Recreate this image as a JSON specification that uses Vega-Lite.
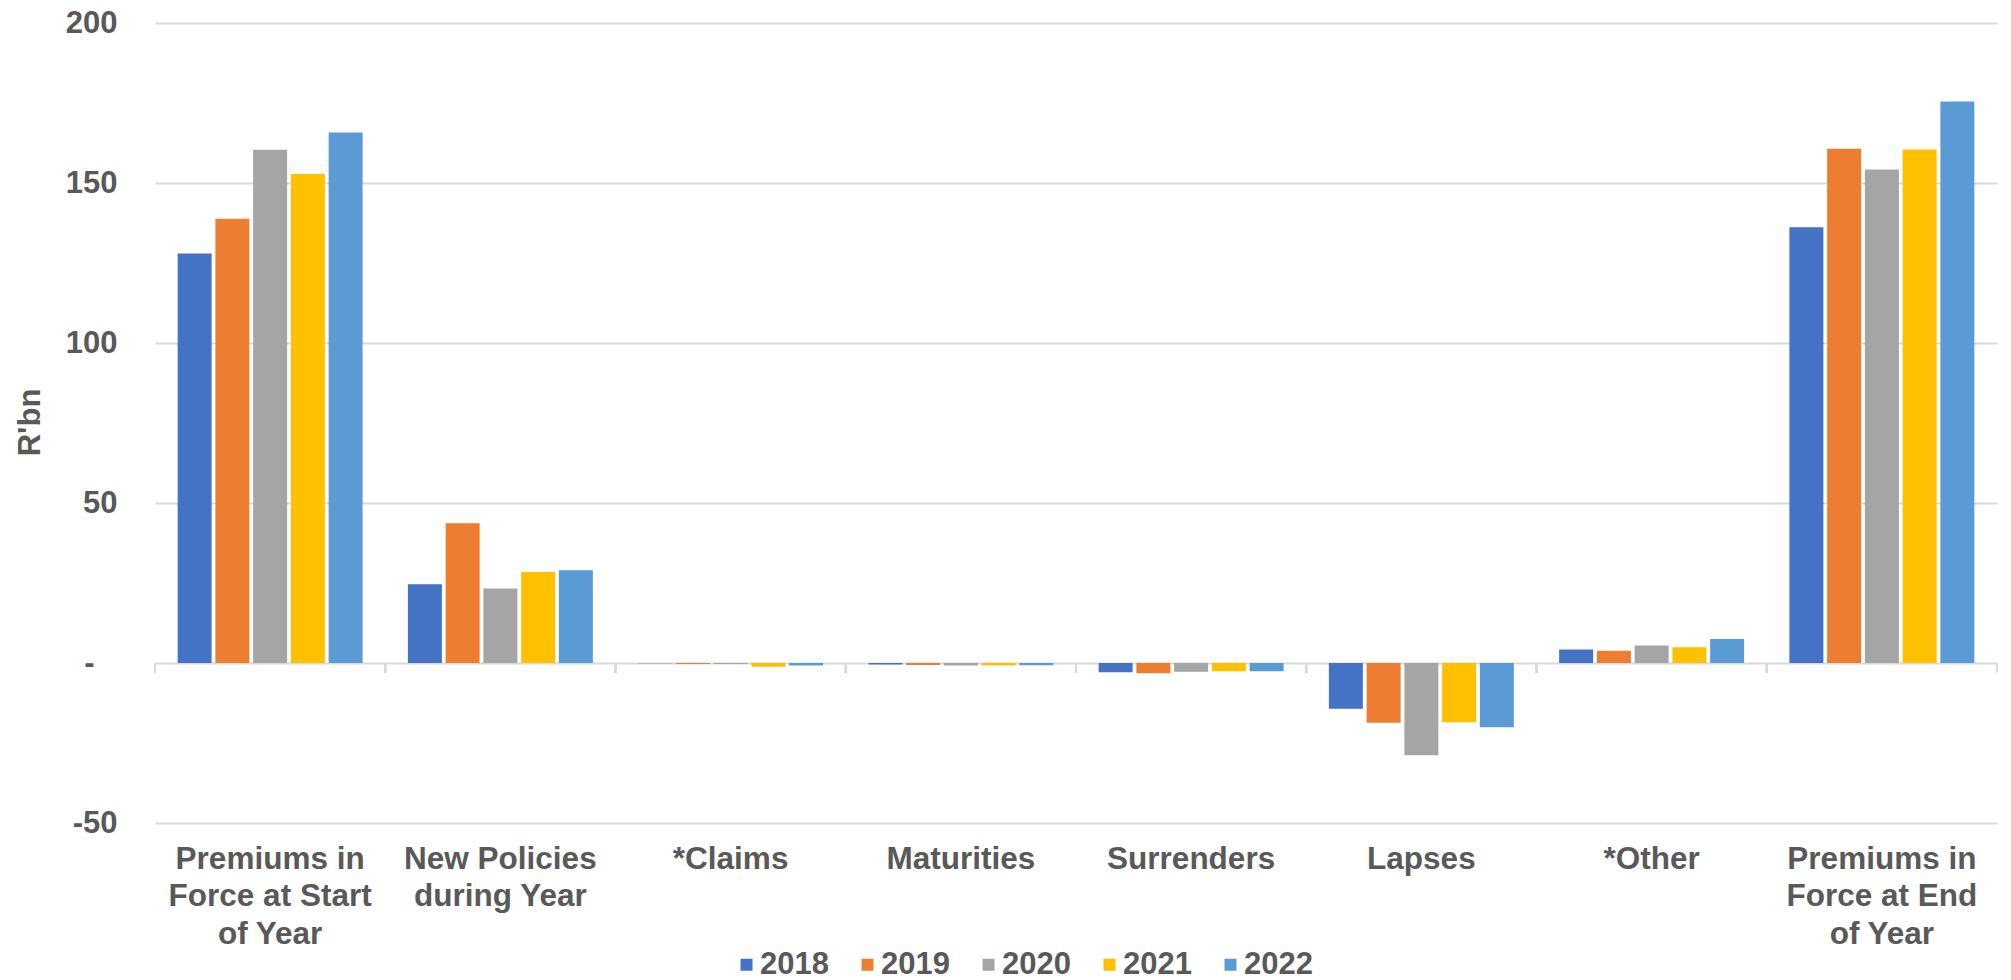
{
  "$schema": "https://vega.github.io/schema/vega-lite/v6.json",
  "autosize": "none",
  "width": 1842,
  "height": 800,
  "padding": {"left": 155, "top": 23, "right": 14, "bottom": 157},
  "background": "white",
  "config": {
    "view": {"stroke": null},
    "font": "Liberation Sans"
  },
  "data": {
    "values": [
      {"item": "Premiums in|Force at Start|of Year", "year": "2018", "value": 128.0},
      {"item": "Premiums in|Force at Start|of Year", "year": "2019", "value": 138.8},
      {"item": "Premiums in|Force at Start|of Year", "year": "2020", "value": 160.4},
      {"item": "Premiums in|Force at Start|of Year", "year": "2021", "value": 152.8},
      {"item": "Premiums in|Force at Start|of Year", "year": "2022", "value": 165.8},
      {"item": "New Policies|during Year", "year": "2018", "value": 24.6},
      {"item": "New Policies|during Year", "year": "2019", "value": 43.7},
      {"item": "New Policies|during Year", "year": "2020", "value": 23.3},
      {"item": "New Policies|during Year", "year": "2021", "value": 28.4},
      {"item": "New Policies|during Year", "year": "2022", "value": 29.0},
      {"item": "*Claims", "year": "2018", "value": -0.1},
      {"item": "*Claims", "year": "2019", "value": -0.3},
      {"item": "*Claims", "year": "2020", "value": -0.3},
      {"item": "*Claims", "year": "2021", "value": -1.2},
      {"item": "*Claims", "year": "2022", "value": -0.8},
      {"item": "Maturities", "year": "2018", "value": -0.5},
      {"item": "Maturities", "year": "2019", "value": -0.6},
      {"item": "Maturities", "year": "2020", "value": -0.8},
      {"item": "Maturities", "year": "2021", "value": -0.8},
      {"item": "Maturities", "year": "2022", "value": -0.7},
      {"item": "Surrenders", "year": "2018", "value": -2.9},
      {"item": "Surrenders", "year": "2019", "value": -3.2},
      {"item": "Surrenders", "year": "2020", "value": -2.7},
      {"item": "Surrenders", "year": "2021", "value": -2.6},
      {"item": "Surrenders", "year": "2022", "value": -2.6},
      {"item": "Lapses", "year": "2018", "value": -14.3},
      {"item": "Lapses", "year": "2019", "value": -18.7},
      {"item": "Lapses", "year": "2020", "value": -28.8},
      {"item": "Lapses", "year": "2021", "value": -18.5},
      {"item": "Lapses", "year": "2022", "value": -20.1},
      {"item": "*Other", "year": "2018", "value": 4.2},
      {"item": "*Other", "year": "2019", "value": 3.8},
      {"item": "*Other", "year": "2020", "value": 5.5},
      {"item": "*Other", "year": "2021", "value": 4.9},
      {"item": "*Other", "year": "2022", "value": 7.5},
      {"item": "Premiums in|Force at End|of Year", "year": "2018", "value": 136.2},
      {"item": "Premiums in|Force at End|of Year", "year": "2019", "value": 160.7},
      {"item": "Premiums in|Force at End|of Year", "year": "2020", "value": 154.2},
      {"item": "Premiums in|Force at End|of Year", "year": "2021", "value": 160.5},
      {"item": "Premiums in|Force at End|of Year", "year": "2022", "value": 175.5}
    ]
  },
  "encoding": {
    "x": {
      "field": "item",
      "type": "nominal",
      "sort": null,
      "scale": {"paddingInner": 0, "paddingOuter": 0},
      "axis": {
        "title": null,
        "labelAngle": 0,
        "labelExpr": "split(datum.label, '|')",
        "labelFont": "Liberation Sans",
        "labelFontWeight": "bold",
        "labelFontSize": 31.5,
        "labelLineHeight": 37.8,
        "labelColor": "#595959",
        "labelPadding": 20,
        "labelBaseline": "top",
        "labelLimit": 0,
        "labelOverlap": false,
        "ticks": false,
        "domain": false,
        "grid": false
      }
    }
  },
  "layer": [
    {
      "mark": {"type": "bar"},
      "encoding": {
        "xOffset": {
          "field": "year",
          "type": "nominal",
          "scale": {"paddingInner": 0.1, "paddingOuter": 0.6}
        },
        "y": {
          "field": "value",
          "type": "quantitative",
          "scale": {"domain": [-50, 200], "nice": false, "zero": false},
          "axis": {
            "title": "R'bn",
            "titleFont": "Liberation Sans",
            "titleFontWeight": "bold",
            "titleFontSize": 31,
            "titleColor": "#595959",
            "titleAngle": -90,
            "titleX": -125,
            "titleY": 399,
            "titleAlign": "center",
            "titleBaseline": "middle",
            "values": [-50, 0, 50, 100, 150, 200],
            "labelExpr": "datum.value == 0 ? '-\u2800' : replace(datum.label, '\u2212', '-')",
            "labelFont": "Liberation Sans",
            "labelFontWeight": "bold",
            "labelFontSize": 31,
            "labelColor": "#595959",
            "labelPadding": 38,
            "ticks": false,
            "domain": false,
            "grid": true,
            "gridColor": "#d9d9d9",
            "gridWidth": 2
          }
        },
        "color": {
          "field": "year",
          "type": "nominal",
          "scale": {
            "domain": ["2018", "2019", "2020", "2021", "2022"],
            "range": ["#4472C4", "#ED7D31", "#A5A5A5", "#FFC000", "#5B9BD5"]
          },
          "legend": {
            "title": null,
            "orient": "none",
            "direction": "horizontal",
            "legendX": 576,
            "legendY": 926,
            "symbolType": "square",
            "symbolSize": 144,
            "symbolStrokeWidth": 0,
            "labelFont": "Liberation Sans",
            "labelFontWeight": "bold",
            "labelFontSize": 31,
            "labelColor": "#595959",
            "labelOffset": -2,
            "columnPadding": 23
          }
        }
      }
    },
    {
      "mark": {"type": "rule", "color": "#d9d9d9", "strokeWidth": 2},
      "encoding": {"y": {"datum": 0, "type": "quantitative"}}
    },
    {
      "mark": {"type": "rule", "color": "#d9d9d9", "strokeWidth": 2},
      "encoding": {
        "x": {"field": "item", "type": "nominal", "sort": null, "bandPosition": 0},
        "y": {"datum": 0, "type": "quantitative"},
        "y2": {"datum": -3}
      }
    },
    {
      "transform": [{"filter": "datum.item == 'Premiums in|Force at End|of Year' && datum.year == '2018'"}],
      "mark": {"type": "rule", "color": "#d9d9d9", "strokeWidth": 2},
      "encoding": {
        "x": {"field": "item", "type": "nominal", "sort": null, "bandPosition": 1},
        "y": {"datum": 0, "type": "quantitative"},
        "y2": {"datum": -3}
      }
    }
  ]
}
